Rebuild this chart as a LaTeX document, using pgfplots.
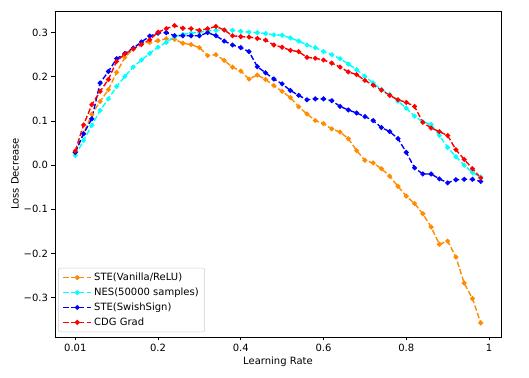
\documentclass[border=0pt]{standalone}
\usepackage{pgfplots}
\pgfplotsset{compat=1.18}
\usepackage{pgfplotstable}
\usepackage{fontspec}
\setmainfont{DejaVu Sans}
\definecolor{mporange}{HTML}{FF8C00}
\definecolor{mpcyan}{HTML}{00FFFF}
\definecolor{mpblue}{HTML}{0000FF}
\definecolor{mpred}{HTML}{FF0000}
\definecolor{lgray}{HTML}{CCCCCC}

\pgfplotstableread{
x ste nes swish cdg
0.00 0.029 0.022 0.029 0.032
0.02 0.072 0.056 0.071 0.091
0.04 0.115 0.090 0.105 0.137
0.06 0.144 0.124 0.186 0.167
0.08 0.171 0.150 0.212 0.194
0.10 0.210 0.178 0.241 0.235
0.12 0.244 0.201 0.253 0.252
0.14 0.263 0.222 0.265 0.263
0.16 0.275 0.238 0.279 0.273
0.18 0.278 0.253 0.292 0.284
0.20 0.282 0.267 0.299 0.301
0.22 0.286 0.278 0.300 0.309
0.24 0.285 0.291 0.293 0.316
0.26 0.276 0.296 0.293 0.310
0.28 0.273 0.299 0.293 0.309
0.30 0.266 0.301 0.293 0.305
0.32 0.248 0.304 0.300 0.309
0.34 0.250 0.305 0.293 0.314
0.36 0.237 0.306 0.281 0.306
0.38 0.222 0.305 0.272 0.293
0.40 0.213 0.303 0.266 0.291
0.42 0.195 0.301 0.257 0.290
0.44 0.204 0.300 0.223 0.287
0.46 0.194 0.298 0.209 0.283
0.48 0.180 0.295 0.195 0.272
0.50 0.167 0.294 0.184 0.267
0.52 0.153 0.288 0.169 0.260
0.54 0.132 0.281 0.158 0.257
0.56 0.116 0.272 0.148 0.244
0.58 0.101 0.266 0.150 0.242
0.60 0.094 0.257 0.150 0.238
0.62 0.082 0.250 0.146 0.231
0.64 0.075 0.241 0.133 0.222
0.66 0.060 0.229 0.125 0.211
0.68 0.033 0.216 0.118 0.205
0.70 0.011 0.201 0.110 0.192
0.72 0.005 0.186 0.101 0.181
0.74 -0.008 0.171 0.085 0.170
0.76 -0.025 0.160 0.076 0.158
0.78 -0.048 0.145 0.060 0.148
0.80 -0.070 0.129 0.029 0.142
0.82 -0.087 0.111 -0.006 0.133
0.84 -0.110 0.098 -0.020 0.097
0.86 -0.140 0.092 -0.020 0.084
0.88 -0.179 0.067 -0.031 0.076
0.90 -0.172 0.040 -0.040 0.067
0.92 -0.208 0.019 -0.033 0.035
0.94 -0.267 0.000 -0.032 0.013
0.96 -0.302 -0.017 -0.032 -0.008
0.98 -0.357 -0.027 -0.037 -0.029
}\datatable

\begin{document}
\begin{tikzpicture}
\begin{axis}[
  scale only axis,
  width=446pt, height=326pt,
  xmin=-0.049, xmax=1.029,
  ymin=-0.389, ymax=0.349,
  xtick={0,0.2,0.4,0.6,0.8,1},
  xticklabels={0.01,0.2,0.4,0.6,0.8,1},
  ytick={-0.3,-0.2,-0.1,0,0.1,0.2,0.3},
  yticklabels={−0.3,−0.2,−0.1,0.0,0.1,0.2,0.3},
  tick align=outside, tick pos=left,
  major tick length=3.5pt,
  tick label style={font=\fontsize{10}{12}\selectfont},
  label style={font=\fontsize{10}{12}\selectfont},
  xlabel={Learning Rate},
  ylabel={Loss Decrease},
  xlabel style={yshift=2pt},
  ylabel style={yshift=-2pt},
  axis line style={line width=0.8pt},
  every tick/.style={black, line width=0.8pt},
  legend cell align=left,
  legend style={at={(0.007,0.015)}, anchor=south west,
    draw=lgray, rounded corners=2pt, fill=white,
    font=\fontsize{10}{12}\selectfont, row sep=1.8pt,
    inner xsep=4pt, inner ysep=3pt},
  legend image code/.code={
    \draw[mark repeat=2, mark phase=2, #1, sharp corners, line width=1.4pt,
          dash pattern=on 5.5pt off 2.4pt]
      plot coordinates {(0cm,0cm) (0.5cm,0cm) (1cm,0cm)};
  },
  every axis plot/.append style={line width=1.4pt, dash pattern=on 5.5pt off 2.4pt,
    mark=*, mark size=1.7pt, mark options={solid}},
]
\addplot[mporange, draw=mporange] table[x=x, y=ste] {\datatable};
\addlegendentry{STE(Vanilla/ReLU)}
\addplot[mpcyan, draw=mpcyan] table[x=x, y=nes] {\datatable};
\addlegendentry{NES(50000 samples)}
\addplot[mpblue, draw=mpblue] table[x=x, y=swish] {\datatable};
\addlegendentry{STE(SwishSign)}
\addplot[mpred, draw=mpred] table[x=x, y=cdg] {\datatable};
\addlegendentry{CDG Grad}
\end{axis}
\pgfresetboundingbox
\path (current axis.south west) ++(-55pt,-41pt) coordinate (bl);
\path (current axis.north east) ++(28pt,11pt) coordinate (tr);
\path (bl) rectangle (tr);
\end{tikzpicture}
\end{document}
